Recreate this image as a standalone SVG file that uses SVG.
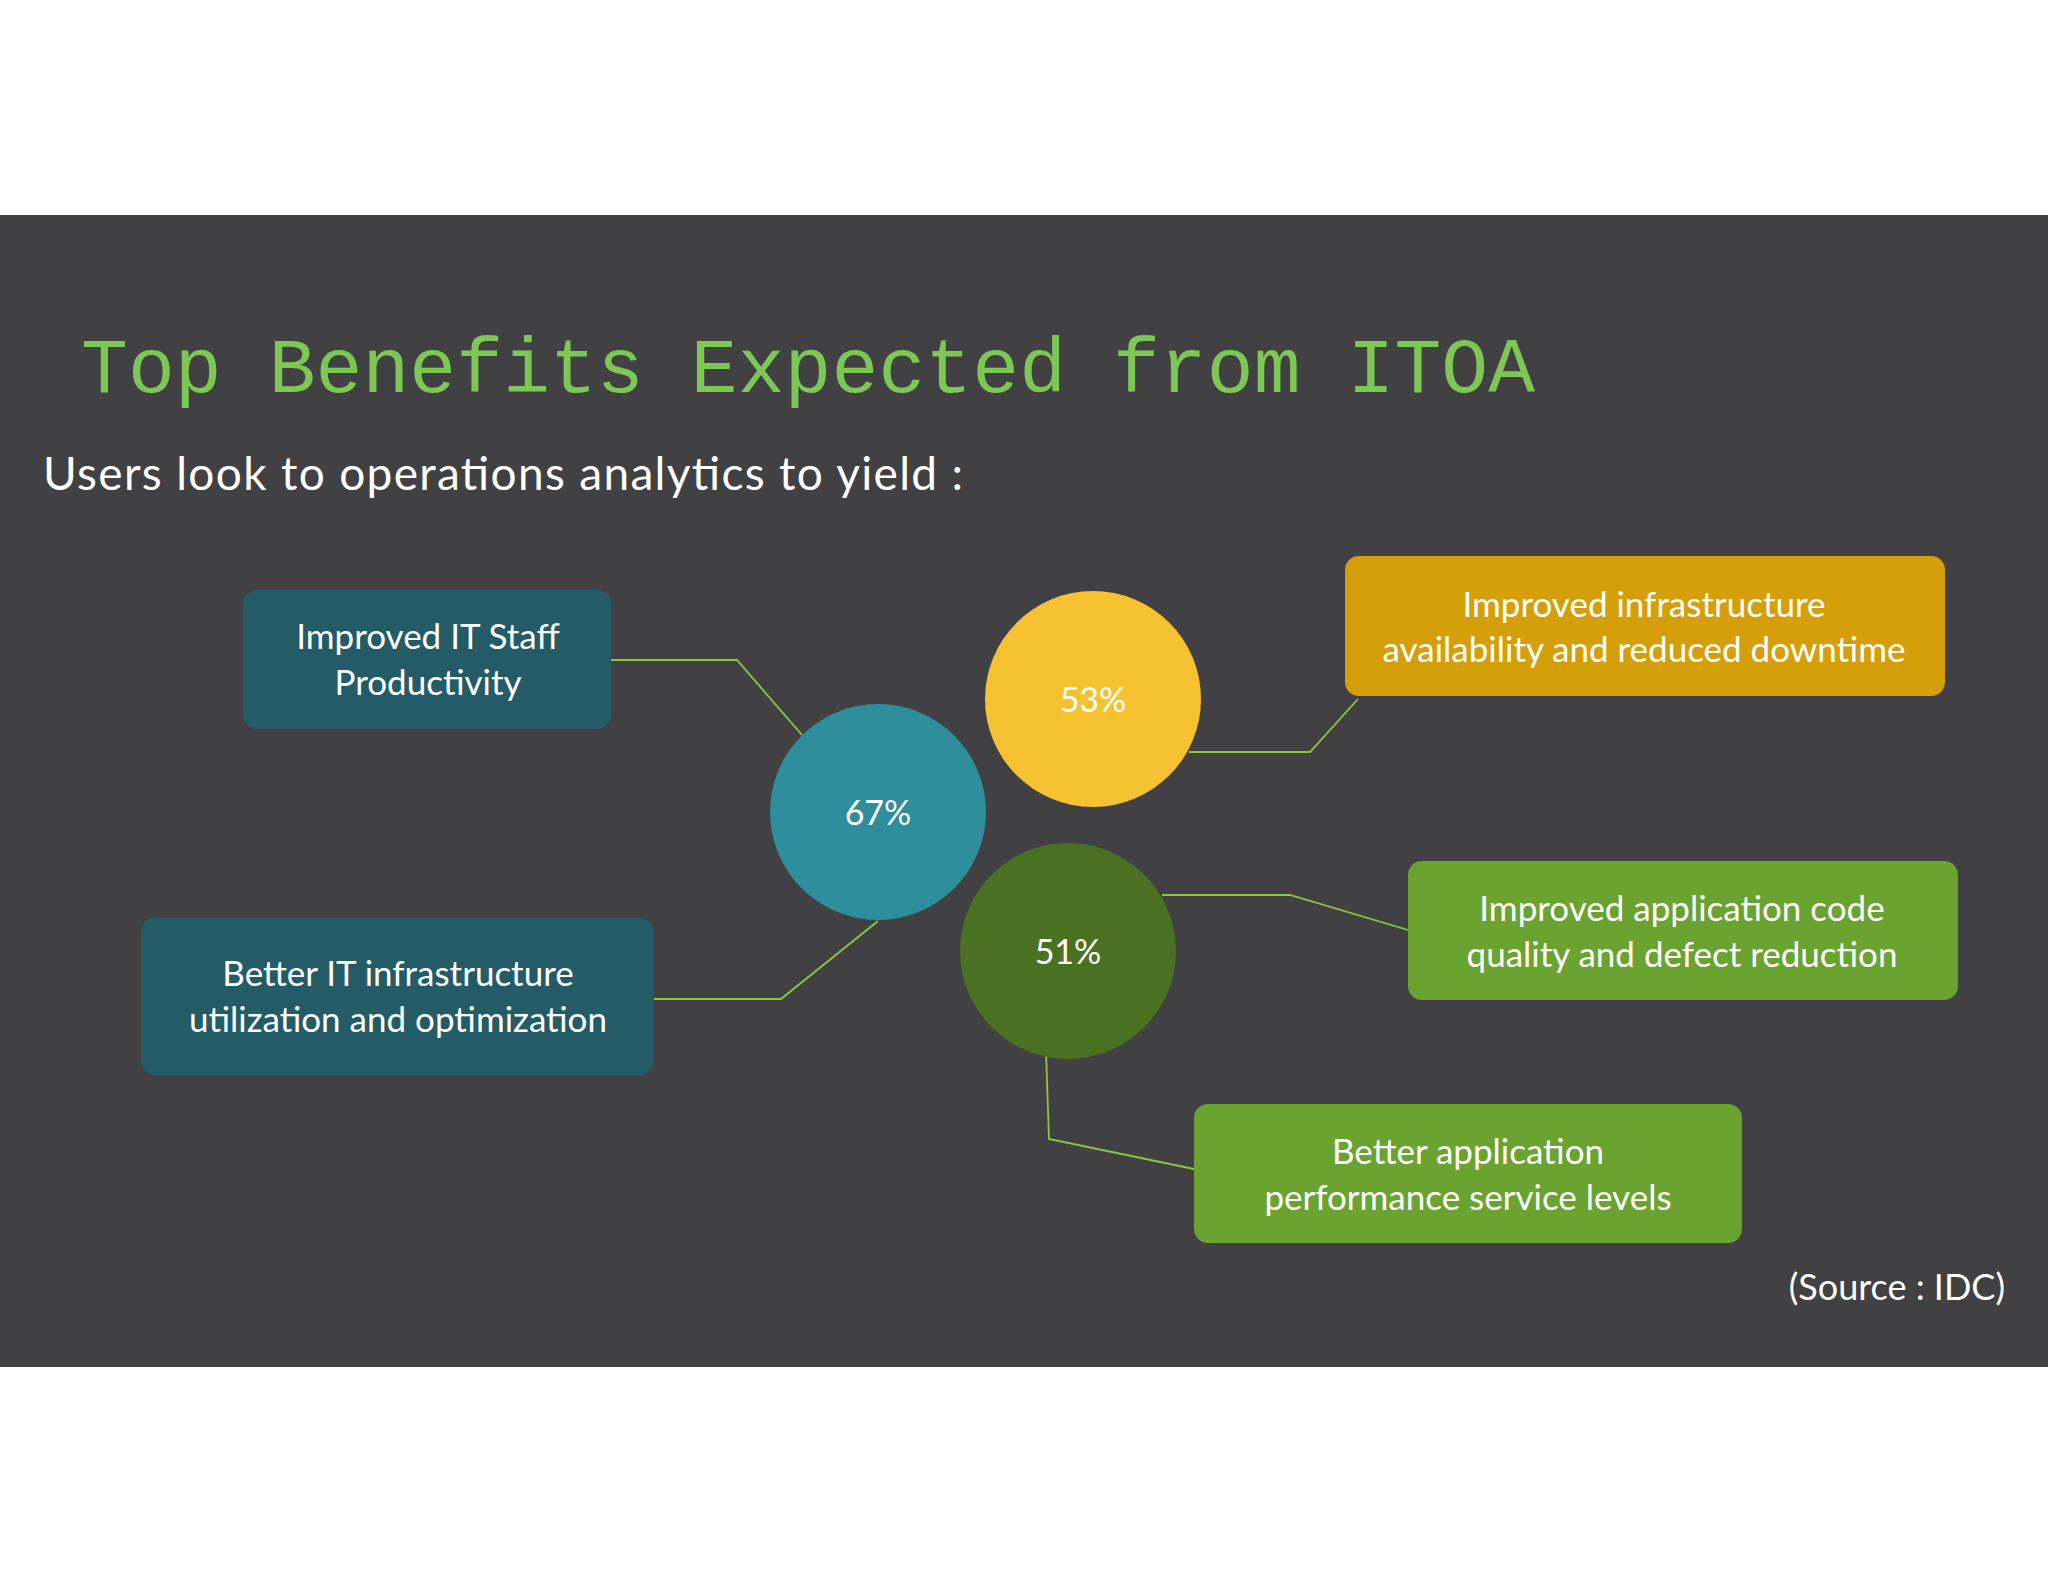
<svg xmlns="http://www.w3.org/2000/svg" width="2048" height="1582" viewBox="0 0 2048 1582">
<style>
.t{font-family:Lato,"Open Sans",sans-serif;font-size:35px;fill:#fff;text-anchor:middle}
.p{font-family:Lato,"Open Sans",sans-serif;font-size:34px;fill:#fff;text-anchor:middle}
.c{fill:none;stroke:#8dc63f;stroke-width:1.8}
</style>
<rect width="2048" height="1582" fill="#fff"/>
<rect x="0" y="215" width="2048" height="1152" fill="#414042"/>
<text x="81" y="392" font-family="'Liberation Mono','DejaVu Sans Mono',monospace" font-size="78" fill="#7dc855" textLength="1454">Top Benefits Expected from ITOA</text>
<text x="43" y="490" font-family="Lato,'Open Sans',sans-serif" font-size="46" fill="#fff" textLength="920">Users look to operations analytics to yield :</text>
<g id="connectors">
<polyline class="c" points="611,660 737,660 802,735"/>
<polyline class="c" points="1189,752 1310,752 1358,699"/>
<polyline class="c" points="878,921 781,999 654,999"/>
<polyline class="c" points="1162,895 1290,895 1408,930"/>
<polyline class="c" points="1046,1051 1049,1139 1194,1169"/>
</g>
<g id="n67"><circle cx="878" cy="812" r="108" fill="#2e8e9c"/><text class="p" x="878" y="825">67%</text></g>
<g id="n53"><circle cx="1093" cy="699" r="108" fill="#f6c232"/><text class="p" x="1093" y="712">53%</text></g>
<g id="n51"><circle cx="1068" cy="951" r="108" fill="#4a7022"/><text class="p" x="1068" y="964">51%</text></g>
<g id="b1"><rect x="243" y="590" width="368" height="139" rx="14" fill="#235b67"/><text class="t" x="428" y="649">Improved IT Staff</text><text class="t" x="428" y="695">Productivity</text></g>
<g id="b2"><rect x="141" y="918" width="513" height="157" rx="14" fill="#235b67"/><text class="t" x="398" y="986">Better IT infrastructure</text><text class="t" x="398" y="1032">utilization and optimization</text></g>
<g id="b3"><rect x="1345" y="556" width="600" height="140" rx="14" fill="#d59f0a"/><text class="t" x="1644" y="617">Improved infrastructure</text><text class="t" x="1644" y="662">availability and reduced downtime</text></g>
<g id="b4"><rect x="1408" y="861" width="550" height="139" rx="14" fill="#6aa32f"/><text class="t" x="1682" y="921">Improved application code</text><text class="t" x="1682" y="967">quality and defect reduction</text></g>
<g id="b5"><rect x="1194" y="1104" width="548" height="139" rx="14" fill="#6aa32f"/><text class="t" x="1468" y="1164">Better application</text><text class="t" x="1468" y="1210">performance service levels</text></g>
<text x="2005" y="1300" font-family="Lato,'Open Sans',sans-serif" font-size="36" fill="#fff" text-anchor="end">(Source : IDC)</text>
</svg>
